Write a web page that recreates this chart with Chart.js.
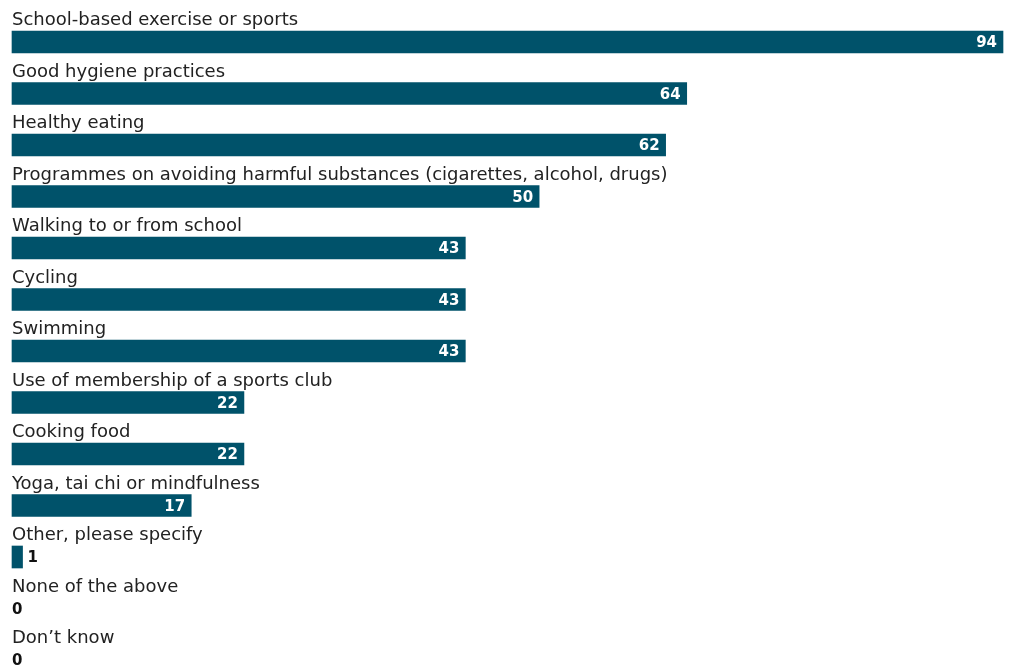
<!DOCTYPE html>
<html>
<head>
<meta charset="utf-8">
<script src="https://cdn.jsdelivr.net/npm/chart.js@4.4.1/dist/chart.umd.min.js"></script>
<style>
  html, body { margin: 0; padding: 0; background: #ffffff; }
  #wrap { width: 1011px; height: 668px; position: relative; }
</style>
</head>
<body>
<div id="wrap"><canvas id="chart"></canvas></div>
<script>
// Activities offered, percentage of schools
const categories = [
  "School-based exercise or sports",
  "Good hygiene practices",
  "Healthy eating",
  "Programmes on avoiding harmful substances (cigarettes, alcohol, drugs)",
  "Walking to or from school",
  "Cycling",
  "Swimming",
  "Use of membership of a sports club",
  "Cooking food",
  "Yoga, tai chi or mindfulness",
  "Other, please specify",
  "None of the above",
  "Don\u2019t know"
];
const values = [94, 64, 62, 50, 43, 43, 43, 22, 22, 17, 1, 0, 0];

const BAR_COLOR = "#00526a";
const TEXT_COLOR = "#222222";
const LABEL_FONT = '18px "DejaVu Sans", sans-serif';
const VALUE_FONT = 'bold 15px "DejaVu Sans", sans-serif';

// Draws each category name above its bar and the value at the bar end
const barLabels = {
  id: "barLabels",
  afterDatasetsDraw(chart) {
    const ctx = chart.ctx;
    const meta = chart.getDatasetMeta(0);
    const xScale = chart.scales.x;
    ctx.save();
    meta.data.forEach((bar, i) => {
      const top = bar.y - bar.height / 2;
      const bottom = bar.y + bar.height / 2;
      // category name
      ctx.font = LABEL_FONT;
      ctx.fillStyle = TEXT_COLOR;
      ctx.textAlign = "left";
      ctx.textBaseline = "alphabetic";
      ctx.fillText(categories[i], xScale.left, top - 6);
      // value
      ctx.font = VALUE_FONT;
      const txt = String(values[i]);
      const w = ctx.measureText(txt).width;
      const barLen = bar.x - xScale.left;
      const base = bottom - 6;
      if (barLen > w + 12) {
        ctx.fillStyle = "#ffffff";
        ctx.textAlign = "right";
        ctx.fillText(txt, bar.x - 6, base);
      } else {
        ctx.fillStyle = "#111111";
        ctx.textAlign = "left";
        ctx.fillText(txt, values[i] > 0 ? bar.x + 5 : xScale.left, base);
      }
    });
    ctx.restore();
  }
};

new Chart(document.getElementById("chart"), {
  type: "bar",
  data: {
    labels: categories,
    datasets: [{
      data: values,
      backgroundColor: values.map(v => (v > 0 ? BAR_COLOR : "rgba(0,0,0,0)")),
      borderWidth: 0,
      barThickness: 22,
      clip: false
    }]
  },
  options: {
    indexAxis: "y",
    responsive: true,
    maintainAspectRatio: false,
    animation: false,
    layout: { padding: { left: 12, right: 8, top: 42, bottom: 8 } },
    plugins: {
      legend: { display: false },
      tooltip: { enabled: false }
    },
    scales: {
      x: {
        display: false,
        min: 0,
        max: 94
      },
      y: {
        display: false,
        offset: false,
        grid: { display: false }
      }
    }
  },
  plugins: [barLabels]
});
</script>
</body>
</html>
